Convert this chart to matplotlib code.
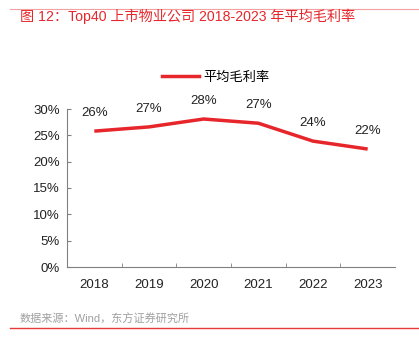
import matplotlib
matplotlib.use('Agg')
import matplotlib.pyplot as plt
from matplotlib import lines as mlines

plt.rcParams['font.family'] = ['Liberation Sans', 'Noto Sans CJK SC', 'DejaVu Sans']

YEARS = ['2018', '2019', '2020', '2021', '2022', '2023']
GROSS_MARGIN = [25.8, 26.6, 28.1, 27.3, 23.9, 22.4]
LABELS = ['26%', '27%', '28%', '27%', '24%', '22%']
Y_TICKS = [0, 5, 10, 15, 20, 25, 30]

RED = '#e6262b'
GRAY = '#808080'

fig = plt.figure(figsize=(4.19, 3.49), dpi=100)
W, H = 419, 349
ax = fig.add_axes([67 / W, 1 - 267 / H, (395 - 67) / W, (267 - 109) / H])

xs = list(range(len(YEARS)))
ax.plot(xs, GROSS_MARGIN, color=RED, linewidth=2.5, solid_capstyle='butt')
for x, y, lab in zip(xs, GROSS_MARGIN, LABELS):
    ax.annotate(lab, (x, y), xytext=(0, 13), textcoords='offset points',
                ha='center', va='center', fontsize=9.5, color='#222222')

ax.set_xlim(-0.5, len(YEARS) - 0.5)
ax.set_ylim(0, 30)
ax.set_yticks(Y_TICKS)
ax.set_yticklabels([f'{t}%' for t in Y_TICKS])
ax.set_xticks(xs)
ax.set_xticklabels(YEARS)
ax.set_xticks([x + 0.5 for x in xs[:-1]], minor=True)
ax.tick_params(axis='x', which='major', length=0, pad=9, labelsize=9.5, labelcolor='#222222')
ax.tick_params(axis='x', which='minor', direction='in', length=3, color=GRAY)
ax.tick_params(axis='y', direction='in', length=3, color=GRAY, pad=5, labelsize=9.5, labelcolor='#222222')
for side in ('top', 'right'):
    ax.spines[side].set_visible(False)
for side in ('left', 'bottom'):
    ax.spines[side].set_color(GRAY)
    ax.spines[side].set_linewidth(0.8)

fig.legend(handles=[mlines.Line2D([], [], color=RED, linewidth=2.5, label='平均毛利率')],
           loc='center', bbox_to_anchor=(216 / W, 1 - 78 / H), frameon=False,
           fontsize=9.5, handlelength=2.8, handletextpad=0.3)

# title and source with red rules
fig.add_artist(mlines.Line2D([10 / W, 1], [1 - 9 / H, 1 - 9 / H], color='#f4a0a0', linewidth=0.8))
fig.text(20 / W, 1 - 16 / H, '图 12：Top40 上市物业公司 2018-2023 年平均毛利率',
         color=RED, fontsize=10.2, ha='left', va='center')
fig.text(20 / W, 1 - 319 / H, '数据来源：Wind，东方证券研究所',
         color='#a0a0a0', fontsize=8, ha='left', va='center')
fig.add_artist(mlines.Line2D([10 / W, 1], [1 - 328 / H, 1 - 328 / H], color='#e83a3a', linewidth=1))

fig.savefig('out.png', dpi=100)
